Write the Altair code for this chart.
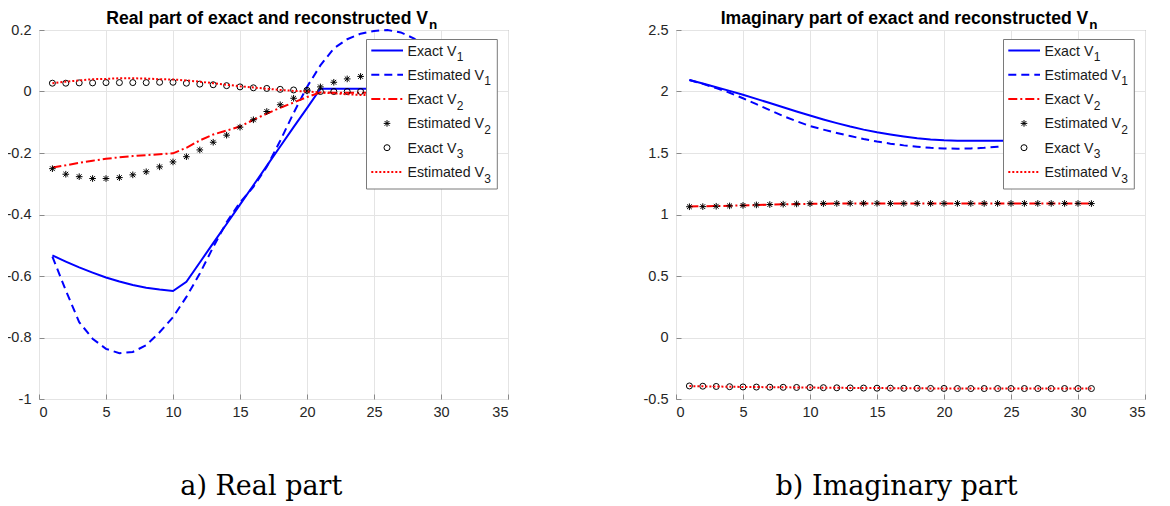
import altair as alt
import pandas as pd

# ---------------- data ----------------
n = list(range(1, 32))

re_exact_v1 = [-0.533, -0.553, -0.572, -0.589, -0.605, -0.618, -0.629, -0.638, -0.644, -0.649,
               -0.619, -0.556, -0.493, -0.431, -0.368, -0.305, -0.242, -0.179, -0.116, -0.054,
               0.009, 0.009, 0.009, 0.009, 0.009, 0.009, 0.009, 0.009, 0.009, 0.009, 0.009]
re_est_v1 = [-0.537, -0.647, -0.750, -0.804, -0.837, -0.851, -0.847, -0.825, -0.783, -0.734,
             -0.668, -0.592, -0.506, -0.425, -0.361, -0.310, -0.245, -0.160, -0.070, 0.015,
             0.085, 0.140, 0.170, 0.188, 0.197, 0.200, 0.192, 0.172, 0.140, 0.100, 0.060]
re_exact_v2 = [-0.247, -0.240, -0.232, -0.225, -0.219, -0.214, -0.210, -0.207, -0.204, -0.201,
               -0.183, -0.159, -0.140, -0.127, -0.114, -0.092, -0.072, -0.053, -0.036, -0.018,
               -0.003, -0.004, -0.004, -0.004, -0.004, -0.004, -0.004, -0.004, -0.004, -0.004, -0.004]
re_est_v2 = [-0.251, -0.269, -0.277, -0.283, -0.283, -0.280, -0.271, -0.261, -0.245, -0.229,
             -0.212, -0.190, -0.165, -0.142, -0.116, -0.092, -0.065, -0.043, -0.022, 0.002,
             0.015, 0.030, 0.041, 0.049, 0.053, 0.055, 0.056, 0.056, 0.055, 0.054, 0.052]
re_exact_v3 = [0.027, 0.027, 0.028, 0.028, 0.029, 0.029, 0.029, 0.029, 0.030, 0.030,
               0.027, 0.024, 0.022, 0.019, 0.015, 0.012, 0.010, 0.007, 0.005, 0.004,
               0.000, 0.000, 0.000, 0.000, 0.000, 0.000, 0.000, 0.000, 0.000, 0.000, 0.000]
re_est_v3 = [0.027, 0.032, 0.036, 0.040, 0.041, 0.043, 0.043, 0.042, 0.040, 0.039,
             0.036, 0.032, 0.027, 0.022, 0.017, 0.013, 0.009, 0.005, 0.002, 0.000,
             -0.003, -0.006, -0.009, -0.011, -0.012, -0.012, -0.012, -0.012, -0.012, -0.012, -0.012]

im_exact_v1 = [2.094, 2.065, 2.035, 2.005, 1.973, 1.940, 1.906, 1.872, 1.838, 1.805,
               1.773, 1.743, 1.715, 1.690, 1.668, 1.650, 1.634, 1.620, 1.610, 1.603,
               1.600, 1.600, 1.600, 1.600, 1.600, 1.600, 1.600, 1.600, 1.600, 1.600, 1.600]
im_est_v1 = [2.094, 2.062, 2.028, 1.990, 1.945, 1.897, 1.848, 1.800, 1.758, 1.719,
             1.690, 1.663, 1.638, 1.614, 1.593, 1.576, 1.562, 1.551, 1.542, 1.537,
             1.535, 1.537, 1.542, 1.550, 1.558, 1.567, 1.576, 1.585, 1.594, 1.602, 1.610]
im_exact_v2 = [1.066, 1.067, 1.069, 1.071, 1.074, 1.077, 1.080, 1.083, 1.085, 1.087,
               1.088, 1.089, 1.090, 1.090, 1.090, 1.090, 1.090, 1.090, 1.090, 1.090,
               1.090, 1.090, 1.090, 1.090, 1.090, 1.090, 1.090, 1.090, 1.090, 1.090, 1.090]
im_est_v2 = [1.063, 1.064, 1.067, 1.070, 1.074, 1.078, 1.081, 1.084, 1.086, 1.088,
             1.089, 1.090, 1.091, 1.091, 1.091, 1.090, 1.090, 1.090, 1.090, 1.090,
             1.090, 1.090, 1.090, 1.090, 1.090, 1.090, 1.090, 1.090, 1.090, 1.090, 1.089]
im_exact_v3 = [-0.394, -0.396, -0.398, -0.400, -0.402, -0.403, -0.404, -0.405, -0.406, -0.407,
               -0.408, -0.409, -0.410, -0.411, -0.412, -0.412, -0.413, -0.413, -0.414, -0.414,
               -0.415, -0.415, -0.415, -0.415, -0.415, -0.415, -0.415, -0.415, -0.415, -0.415, -0.415]
im_est_v3 = [-0.395, -0.397, -0.399, -0.400, -0.402, -0.403, -0.404, -0.405, -0.406, -0.407,
             -0.408, -0.409, -0.410, -0.411, -0.411, -0.412, -0.413, -0.413, -0.414, -0.414,
             -0.414, -0.415, -0.415, -0.415, -0.415, -0.415, -0.415, -0.415, -0.415, -0.415, -0.415]

x_ticks = [0, 5, 10, 15, 20, 25, 30, 35]
re_ticks = [-1, -0.8, -0.6, -0.4, -0.2, 0, 0.2]
im_ticks = [-0.5, 0, 0.5, 1, 1.5, 2, 2.5]

legend_labels = ["Exact V", "Estimated V", "Exact V", "Estimated V", "Exact V", "Estimated V"]
legend_subs = ["1", "1", "2", "2", "3", "3"]

titles = ["Real part of exact and reconstructed V", "Imaginary part of exact and reconstructed V"]
captions = ["a) Real part", "b) Imaginary part"]

# ---------------- layout / style ----------------
W, H = 469, 369
BLUE, RED = "#0000ff", "#ff0000"
STAR = "M-1,0L1,0M0,-1L0,1M-0.72,-0.72L0.72,0.72M-0.72,0.72L0.72,-0.72"
SANS = "Liberation Sans"
AX_FS = 14.5
BOX = "#8a8a8a"

styles = [
    dict(kind="line", color=BLUE, dash=None),
    dict(kind="line", color=BLUE, dash=[8, 5]),
    dict(kind="line", color=RED, dash=[9, 3, 2, 3]),
    dict(kind="star"),
    dict(kind="circle"),
    dict(kind="line", color=RED, dash=[2, 2]),
]

# Arial/Helvetica advance widths (per 1000 em) for legend label measuring
ARIAL = {"E": 667, "x": 500, "a": 556, "c": 500, "t": 278, " ": 278, "V": 667,
         "s": 500, "i": 222, "m": 833, "e": 556, "d": 556}
LEG_FS = 14.2


def text_width(s, fs):
    return sum(ARIAL.get(ch, 556) for ch in s) * fs / 1000.0


one = pd.DataFrame({"k": [0]})


def panel(series, ydom, yticks, title, title_end, caption, cap_x):
    df = pd.DataFrame({"n": n})
    cols = ["exact_v1", "est_v1", "exact_v2", "est_v2", "exact_v3", "est_v3"]
    for c, v in zip(cols, series):
        df[c] = v

    xs = alt.Scale(domain=[0, 35], nice=False, zero=False)
    ys = alt.Scale(domain=ydom, nice=False, zero=False)
    # ticks drawn inward (MATLAB style) by pulling the axis 5px inside the frame
    xaxis = alt.Axis(values=x_ticks, title=None, labelExpr="'' + datum.value",
                     offset=-5, ticks=True, tickSize=5, tickColor=BOX, tickWidth=1,
                     labelPadding=6, domain=False,
                     labelFont=SANS, labelFontSize=AX_FS, labelColor="#262626")
    yaxis = alt.Axis(values=yticks, title=None, labelExpr="'' + datum.value",
                     offset=-5, ticks=True, tickSize=5, tickColor=BOX, tickWidth=1,
                     labelPadding=8, domain=False,
                     labelFont=SANS, labelFontSize=AX_FS, labelColor="#262626")

    base = alt.Chart(df)
    layers = []
    for i, (c, st) in enumerate(zip(cols, styles)):
        xe = alt.X("n:Q", scale=xs, axis=xaxis)
        ye = alt.Y(f"{c}:Q", scale=ys, axis=yaxis)
        if st["kind"] == "line":
            kw = dict(color=st["color"], strokeWidth=2)
            if st["dash"]:
                kw["strokeDash"] = st["dash"]
            layers.append(base.mark_line(**kw).encode(x=xe, y=ye))
        elif st["kind"] == "star":
            layers.append(base.mark_point(shape=STAR, size=44, color="black", strokeWidth=1,
                                          opacity=1).encode(x=xe, y=ye))
        else:
            layers.append(base.mark_point(shape="circle", size=36, color="black", strokeWidth=1,
                                          opacity=1).encode(x=xe, y=ye))

    # legend box
    lb = alt.Chart(one)
    layers.append(lb.mark_rect(fill="white", stroke="#7a7a7a", strokeWidth=1).encode(
        x=alt.value(327.5), x2=alt.value(458.3), y=alt.value(9.5), y2=alt.value(159)))
    for i, (lab, sub, st) in enumerate(zip(legend_labels, legend_subs, styles)):
        ry = 20.5 + 24.3 * i
        if st["kind"] == "line":
            kw = dict(color=st["color"], strokeWidth=2)
            if st["dash"]:
                kw["strokeDash"] = st["dash"]
            layers.append(lb.mark_rule(**kw).encode(
                x=alt.value(332.3), x2=alt.value(364), y=alt.value(ry)))
        elif st["kind"] == "star":
            layers.append(lb.mark_point(shape=STAR, size=44, color="black", strokeWidth=1,
                                        opacity=1).encode(x=alt.value(348), y=alt.value(ry)))
        else:
            layers.append(lb.mark_point(shape="circle", size=36, color="black", strokeWidth=1,
                                        opacity=1).encode(x=alt.value(348), y=alt.value(ry)))
        tx = 368.5
        layers.append(lb.mark_text(align="left", baseline="alphabetic", font=SANS,
                                   fontSize=LEG_FS, color="#1a1a1a").encode(
            x=alt.value(tx), y=alt.value(ry + 5), text=alt.value(lab)))
        layers.append(lb.mark_text(align="left", baseline="alphabetic", font=SANS,
                                   fontSize=12, color="#1a1a1a").encode(
            x=alt.value(tx + text_width(lab, LEG_FS) + 0.3), y=alt.value(ry + 10.5),
            text=alt.value(sub)))

    # title with subscript n
    layers.append(lb.mark_text(align="right", baseline="alphabetic", font=SANS, fontSize=17.6,
                               fontWeight="bold", color="black").encode(
        x=alt.value(title_end), y=alt.value(-6), text=alt.value(title)))
    layers.append(lb.mark_text(align="left", baseline="alphabetic", font=SANS, fontSize=13.5,
                               fontWeight="bold", color="black").encode(
        x=alt.value(title_end + 1), y=alt.value(-1.5), text=alt.value("n")))
    # caption
    layers.append(lb.mark_text(align="center", baseline="alphabetic", font="DejaVu Serif",
                               fontSize=27, color="black").encode(
        x=alt.value(cap_x), y=alt.value(465), text=alt.value(caption)))

    return alt.layer(*layers).properties(width=W, height=H)


left = panel([re_exact_v1, re_est_v1, re_exact_v2, re_est_v2, re_exact_v3, re_est_v3],
             [-1, 0.2], re_ticks, titles[0], 389, captions[0], 222.3)
right = panel([im_exact_v1, im_est_v1, im_exact_v2, im_est_v2, im_exact_v3, im_est_v3],
              [-0.5, 2.5], im_ticks, titles[1], 412.3, captions[1], 220.6)

chart = alt.hconcat(left, right, spacing=168, bounds="flush").properties(
    padding={"left": -3, "top": 1, "right": 0, "bottom": 0}
).configure_view(stroke=BOX, strokeWidth=1).configure_axis(
    grid=True, gridColor="#e4e4e4", gridWidth=1,
)

chart.save("out.html", embed_options={"renderer": "svg", "actions": False})
